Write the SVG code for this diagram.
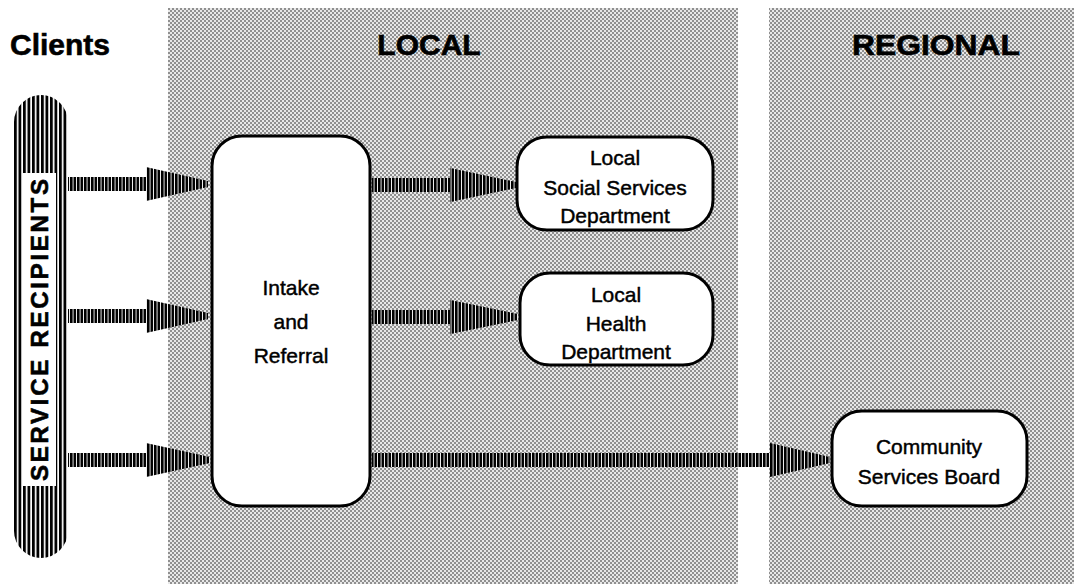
<svg xmlns="http://www.w3.org/2000/svg" width="1079" height="584" viewBox="0 0 1079 584">
  <defs>
    <pattern id="dots" patternUnits="userSpaceOnUse" width="4" height="4">
      <rect width="4" height="4" fill="#e8e8e8"/>
      <rect x="0" y="0" width="2" height="2" fill="#909090"/>
      <rect x="2" y="2" width="2" height="2" fill="#909090"/>
    </pattern>
    <pattern id="stripes" patternUnits="userSpaceOnUse" width="3.5" height="10">
      <rect width="3.5" height="10" fill="#ffffff"/>
      <rect width="2.6" height="10" fill="#000000"/>
    </pattern>
    <pattern id="pillstripes" patternUnits="userSpaceOnUse" width="4.5" height="10" x="14">
      <rect width="4.5" height="10" fill="#ffffff"/>
      <rect width="2.8" height="10" fill="#000000"/>
    </pattern>
  </defs>
  <style>
    .hdr { font-family: "Liberation Sans", Arial, Helvetica, sans-serif; font-weight: bold; fill: #000; stroke: #000; stroke-width: 0.6; }
    .lbl { font-family: "Liberation Sans", Arial, Helvetica, sans-serif; font-size: 21px; fill: #000; stroke: #000; stroke-width: 0.45; text-anchor: middle; }
    .box { fill: #ffffff; stroke: #000000; stroke-width: 3; }
    .arrow { fill: url(#stripes); }
  </style>
  <rect width="1079" height="584" fill="#ffffff"/>

  <g id="panel-local">
    <rect x="168" y="8" width="570" height="576" fill="url(#dots)"/>
    <text class="hdr" x="429" y="55" font-size="30" text-anchor="middle">LOCAL</text>
  </g>
  <g id="panel-regional">
    <rect x="769" y="8" width="305" height="576" fill="url(#dots)"/>
    <text class="hdr" x="936" y="55" font-size="30" text-anchor="middle" textLength="168" lengthAdjust="spacingAndGlyphs">REGIONAL</text>
  </g>
  <g id="clients-title">
    <text class="hdr" x="10" y="55" font-size="30">Clients</text>
  </g>

  <g id="service-recipients">
    <rect x="14" y="95" width="54" height="463" rx="27" ry="27" fill="url(#pillstripes)"/>
    <rect x="23" y="173" width="33" height="313" fill="#ffffff"/>
    <text class="hdr" font-size="24" text-anchor="middle" transform="translate(48,330) rotate(-90)" textLength="302" lengthAdjust="spacing">SERVICE RECIPIENTS</text>
  </g>

  <g id="connectors">
    <path class="arrow" d="M68,177 H146 V167 L208,181 V187 L146,201 V191 H68 Z"/>
    <path class="arrow" d="M68,309 H146 V299 L208,313 V319 L146,333 V323 H68 Z"/>
    <path class="arrow" d="M68,453 H146 V443 L210,457 V463 L146,477 V467 H68 Z"/>
    <path class="arrow" d="M372,178 H450 V168 L516,182 V188 L450,202 V192 H372 Z"/>
    <path class="arrow" d="M372,310 H450 V300 L518,314 V320 L450,334 V324 H372 Z"/>
    <path class="arrow" d="M372,453 H770 V443 L830,457 V463 L770,477 V467 H372 Z"/>
  </g>

  <g id="intake-referral">
    <rect class="box" x="212" y="136" width="158" height="370" rx="30" ry="30"/>
    <text class="lbl" x="291" y="295" font-size="23">Intake</text>
    <text class="lbl" x="291" y="329" font-size="23">and</text>
    <text class="lbl" x="291" y="363" font-size="23">Referral</text>
  </g>

  <g id="local-social-services">
    <rect class="box" x="517" y="137" width="196" height="93" rx="30" ry="30"/>
    <text class="lbl" x="615" y="165">Local</text>
    <text class="lbl" x="615" y="195">Social Services</text>
    <text class="lbl" x="615" y="223">Department</text>
  </g>

  <g id="local-health">
    <rect class="box" x="520" y="273" width="193" height="92" rx="30" ry="30"/>
    <text class="lbl" x="616" y="302">Local</text>
    <text class="lbl" x="616" y="331">Health</text>
    <text class="lbl" x="616" y="359">Department</text>
  </g>

  <g id="community-services-board">
    <rect class="box" x="832" y="411" width="195" height="95" rx="30" ry="30"/>
    <text class="lbl" x="929" y="454">Community</text>
    <text class="lbl" x="929" y="484">Services Board</text>
  </g>
</svg>
